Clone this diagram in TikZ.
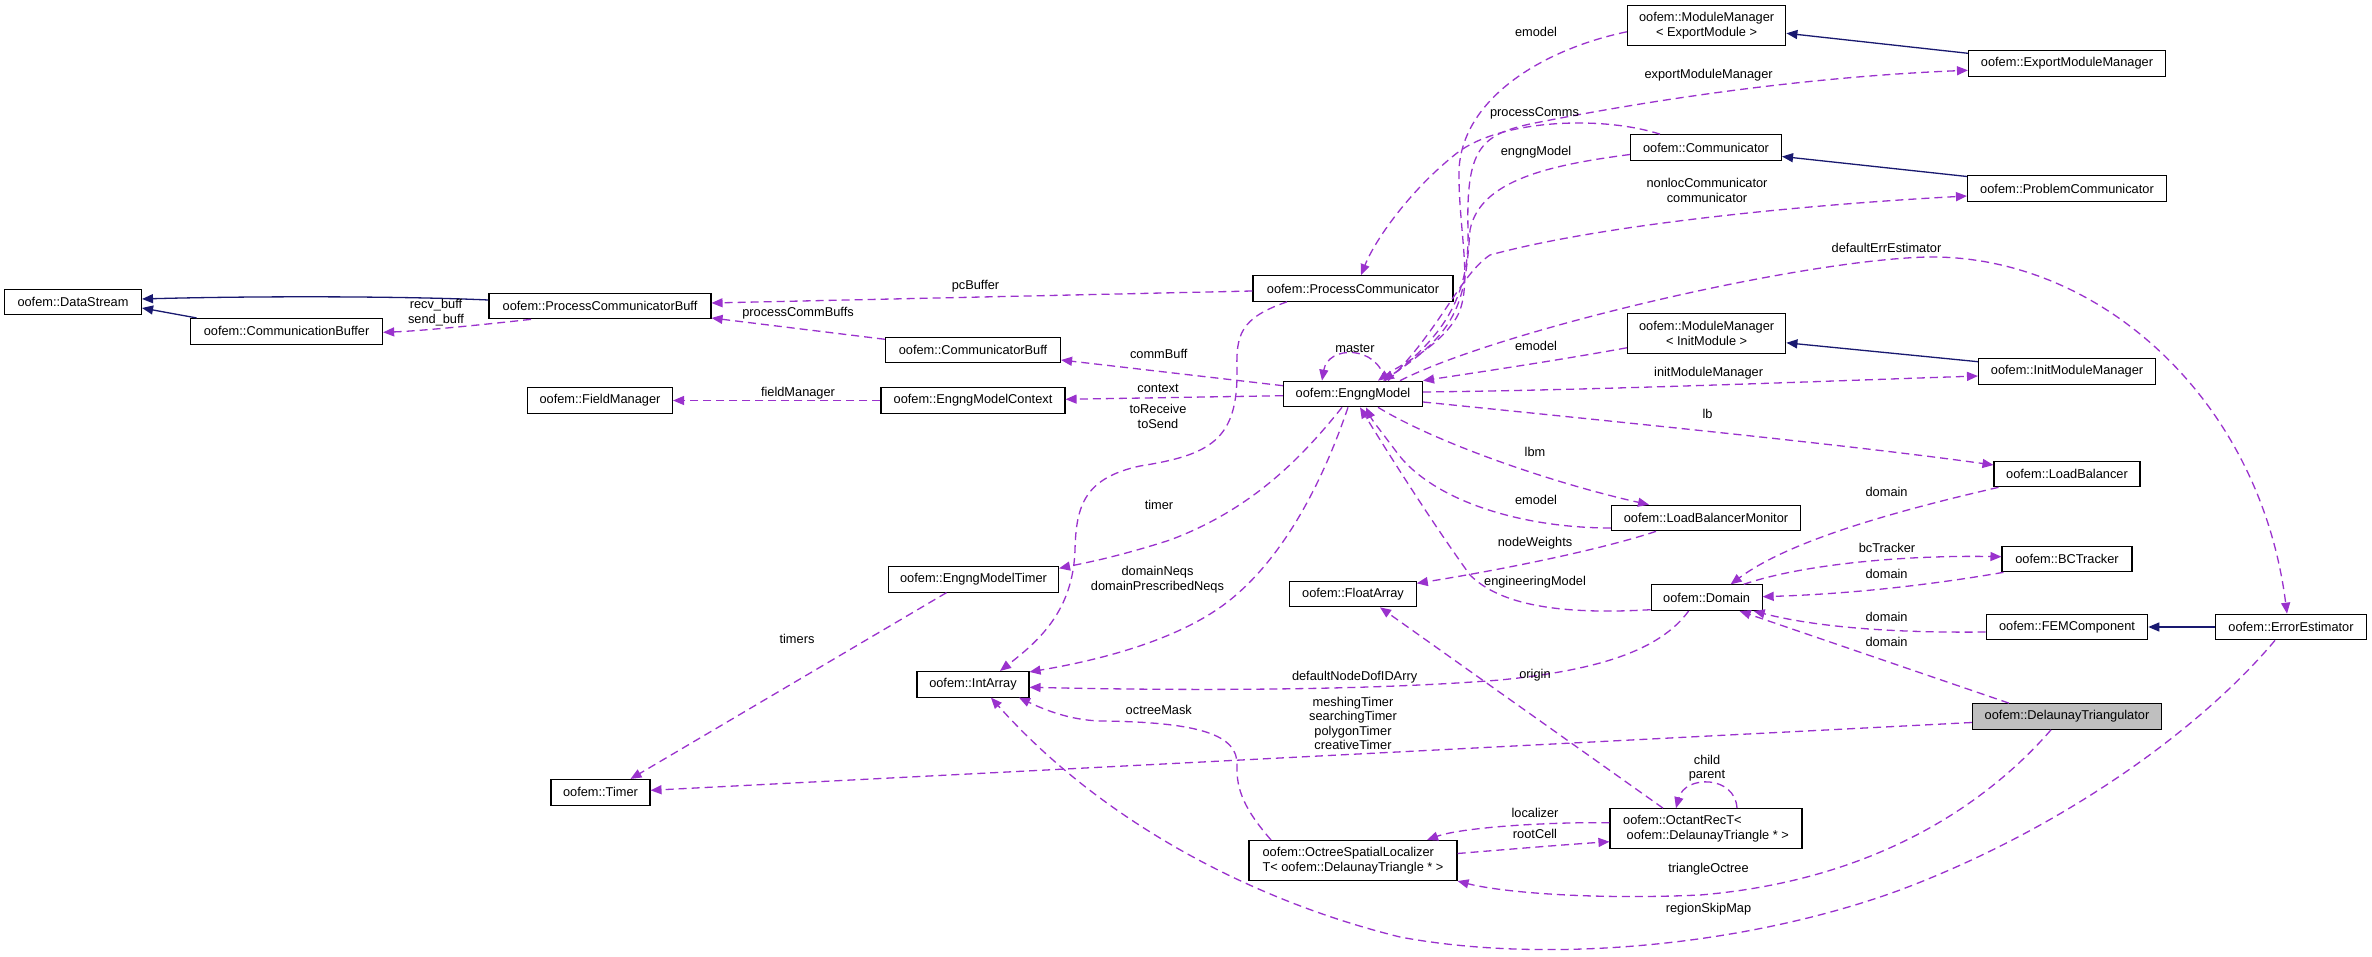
\documentclass[tikz,border=0pt]{standalone}
\usepackage{fontspec}
\setmainfont{Liberation Sans}
\usetikzlibrary{arrows.meta,calc}
\definecolor{vio}{HTML}{9A32CD}
\definecolor{mblue}{HTML}{191970}
\definecolor{selgray}{HTML}{BFBFBF}
\newcommand\dfs{\fontsize{12.8}{14.8}\selectfont}
\tikzset{
  cls/.style={draw=black, line width=1.1pt, fill=white, minimum height=25.6pt, inner sep=0pt, font=\dfs},
  clstwo/.style={cls, minimum height=40pt},
  usee/.style={draw=vio, line width=1.3pt, dash pattern=on 8pt off 5pt, -{Triangle[length=11pt,width=9pt]}},
  inh/.style={draw=mblue, line width=1.3pt, -{Triangle[length=11pt,width=9pt]}},
  lbl/.style={inner sep=0pt, font=\dfs, align=center},
}
\begin{document}
\begin{tikzpicture}[x=1pt,y=-1pt]
\fill[white] (0,0) rectangle (2372,957);
\useasboundingbox (0,0) rectangle (2372,957);
% nodes
\node[cls, minimum width=137pt] (ds) at (73,302) {oofem::DataStream};
\node[cls, minimum width=192pt] (cb) at (286.6,331.3) {oofem::CommunicationBuffer};
\node[cls, minimum width=222pt] (pcb) at (600,306) {oofem::ProcessCommunicatorBuff};
\node[cls, minimum width=145pt] (fm) at (600,400.5) {oofem::FieldManager};
\node[cls, minimum width=200pt] (pcom) at (1353,288.5) {oofem::ProcessCommunicator};
\node[cls, minimum width=175pt] (cbuff) at (973,350) {oofem::CommunicatorBuff};
\node[cls, minimum width=184pt] (emc) at (973,400.5) {oofem::EngngModelContext};
\node[cls, minimum width=139pt] (em) at (1353,394) {oofem::EngngModel};
\node[clstwo, minimum width=158.5pt, align=center] (mmx) at (1706.6,25.8) {oofem::ModuleManager\\< ExportModule >};
\node[cls, minimum width=197pt] (emm) at (2067,63.3) {oofem::ExportModuleManager};
\node[cls, minimum width=151pt] (comm) at (1706,147.5) {oofem::Communicator};
\node[cls, minimum width=199pt] (prc) at (2067,188.5) {oofem::ProblemCommunicator};
\node[clstwo, minimum width=158.5pt, align=center] (mmi) at (1706.6,333.8) {oofem::ModuleManager\\< InitModule >};
\node[cls, minimum width=177pt] (imm) at (2067,371.3) {oofem::InitModuleManager};
\node[cls, minimum width=146pt] (lb) at (2067,474) {oofem::LoadBalancer};
\node[cls, minimum width=189pt] (lbm) at (1706,518) {oofem::LoadBalancerMonitor};
\node[cls, minimum width=130pt] (bct) at (2067,559) {oofem::BCTracker};
\node[cls, minimum width=111pt] (dom) at (1706.6,597.7) {oofem::Domain};
\node[cls, minimum width=161.5pt] (fem) at (2067,627) {oofem::FEMComponent};
\node[cls, minimum width=151pt] (ee) at (2291,627) {oofem::ErrorEstimator};
\node[cls, minimum width=189pt, fill=selgray] (dt) at (2067,716.5) {oofem::DelaunayTriangulator};
\node[cls, minimum width=170pt] (emt) at (973.5,579.3) {oofem::EngngModelTimer};
\node[cls, minimum width=126.5pt] (fa) at (1353,594) {oofem::FloatArray};
\node[cls, minimum width=112pt] (ia) at (973,684.3) {oofem::IntArray};
\node[cls, minimum width=99pt] (tmr) at (600.5,792.3) {oofem::Timer};
\node[clstwo, minimum width=208pt, align=left] (osl) at (1353,860.5) {oofem::OctreeSpatialLocalizer\\T< oofem::DelaunayTriangle * >};
\node[clstwo, minimum width=192pt, align=left] (ort) at (1706,828.7) {oofem::OctantRecT<\\\ oofem::DelaunayTriangle * >};
% inheritance
\draw[inh] ($(cb.north)+(-90,0)$) -- ($(ds.east)+(0,6)$);
\draw[inh] ($(pcb.west)+(0,-6)$) .. controls (400,296) and (250,296) .. ($(ds.east)+(0,-3)$);
\draw[inh] ($(emm.west)+(0,-10)$) -- ($(mmx.east)+(0,7.5)$);
\draw[inh] ($(prc.west)+(0,-12)$) -- ($(comm.east)+(0,9)$);
\draw[inh] ($(imm.west)+(0,-9.6)$) -- ($(mmi.east)+(0,9)$);
\draw[inh] (ee.west) -- (fem.east);
% usage
\draw[usee] ($(pcb.south)+(-69,0)$) .. controls (480,325) and (420,331) .. ($(cb.east)+(0,1)$);
\draw[usee] ($(pcom.west)+(0,2.5)$) -- ($(pcb.east)+(0,-3)$);
\draw[usee] ($(cbuff.west)+(0,-10.7)$) -- ($(pcb.east)+(0,12)$);
\draw[usee] ($(em.west)+(0,-8.3)$) -- ($(cbuff.east)+(0,10)$);
\draw[usee] ($(em.west)+(0,1.7)$) -- ($(emc.east)+(0,-1.2)$);
\draw[usee] (emc.west) -- (fm.east);
\draw[usee] ($(pcom.south)+(-66,0)$) .. controls (1240,318) and (1236,335) .. (1237,370) .. controls (1238,440) and (1210,455) .. (1140,466) .. controls (1085,478) and (1076,505) .. (1075,550) .. controls (1073,610) and (1040,640) .. ($(ia.north)+(27,0)$);
\draw[usee] ($(em.south)+(-11,0)$) .. controls (1300,460) and (1250,510) .. (1170,540) .. controls (1120,556) and (1090,562) .. ($(emt.east)+(0,-11)$);
\draw[usee] ($(em.south)+(-5,0)$) .. controls (1320,490) and (1280,560) .. (1230,600) .. controls (1180,640) and (1100,660) .. ($(ia.north east)+(0,1)$);
\draw[usee] ($(em.south)+(25,0)$) .. controls (1440,445) and (1560,485) .. ($(lbm.north)+(-57,0)$);
\draw[usee] ($(lbm.west)+(0,10)$) .. controls (1520,528) and (1430,500) .. (1395,450) .. controls (1380,430) and (1372,420) .. ($(em.south)+(13,0)$);
\draw[usee] ($(dom.west)+(0,12)$) .. controls (1560,615) and (1500,605) .. (1470,575) .. controls (1430,520) and (1380,440) .. ($(em.south)+(7,0)$);
\draw[usee] ($(em.east)+(0,8)$) .. controls (1600,420) and (1850,445) .. ($(lb.west)+(0,-9)$);
\draw[usee] ($(em.east)+(0,-2)$) .. controls (1600,390) and (1800,382) .. ($(imm.west)+(0,4.7)$);
\draw[usee] ($(mmi.west)+(0,14)$) .. controls (1560,360) and (1480,372) .. (em.north east);
\draw[usee] ($(em.north)+(47,0)$) .. controls (1500,330) and (1800,260) .. (1928,257) .. controls (2100,255) and (2260,400) .. ($(ee.north)+(-4,0)$);
\draw[usee] ($(em.north)+(35,0)$) .. controls (1440,330) and (1460,275) .. (1490,255) .. controls (1600,225) and (1800,205) .. ($(prc.west)+(0,7.5)$);
\draw[usee] ($(em.north)+(32,0)$) .. controls (1440,340) and (1470,300) .. (1468,230) .. controls (1466,150) and (1480,135) .. (1530,124) .. controls (1700,90) and (1850,75) .. ($(emm.west)+(0,7)$);
\draw[usee] ($(mmx.west)+(0,6)$) .. controls (1540,50) and (1462,100) .. (1459,170) .. controls (1458,230) and (1475,290) .. (1455,320) .. controls (1435,350) and (1400,365) .. ($(em.north)+(25,0)$);
\draw[usee] ($(comm.west)+(0,7)$) .. controls (1550,165) and (1480,180) .. (1470,230) .. controls (1465,300) and (1460,330) .. ($(em.north)+(30,0)$);
\draw[usee] ($(comm.north)+(-46,0)$) .. controls (1600,115) and (1500,120) .. (1457,153) .. controls (1410,190) and (1375,240) .. ($(pcom.north)+(8,0)$);
\draw[usee] ($(em.north)+(32,0)$) .. controls (1378,345) and (1328,345) .. ($(em.north)+(-31,0)$);
\draw[usee] ($(lbm.south)+(-50,0)$) .. controls (1600,550) and (1500,570) .. ($(fa.east)+(0,-10.7)$);
\draw[usee] ($(lb.south west)+(5,0)$) .. controls (1900,510) and (1790,540) .. ($(dom.north)+(24,0)$);
\draw[usee] ($(dom.north)+(37,0)$) .. controls (1800,565) and (1900,555) .. ($(bct.west)+(0,-2.3)$);
\draw[usee] ($(bct.south west)+(2,0)$) .. controls (1930,585) and (1850,594) .. ($(dom.east)+(0,-1)$);
\draw[usee] ($(fem.west)+(0,5)$) .. controls (1900,633) and (1820,628) .. ($(dom.south east)+(-9,0)$);
\draw[usee] ($(dt.north)+(-58,0)$) -- ($(dom.south)+(33,0)$);
\draw[usee] ($(dom.south)+(-18,0)$) .. controls (1660,650) and (1600,670) .. (1500,680) .. controls (1350,692) and (1150,690) .. ($(ia.east)+(0,3)$);
\draw[usee] ($(dt.west)+(0,6)$) -- ($(tmr.east)+(0,-2)$);
\draw[usee] ($(emt.south)+(-27,0)$) -- ($(tmr.north)+(30,0)$);
\draw[usee] ($(ort.north)+(-43,0)$) -- ($(fa.south)+(27,0)$);
\draw[usee] ($(ort.north)+(31,0)$) .. controls (1735,775) and (1685,775) .. ($(ort.north)+(-30,0)$);
\draw[usee] ($(ort.west)+(0,-6)$) .. controls (1540,822) and (1460,828) .. ($(osl.north)+(74,0)$);
\draw[usee] ($(osl.east)+(0,-7)$) .. controls (1500,850) and (1560,845) .. ($(ort.west)+(0,13)$);
\draw[usee] ($(osl.north)+(-82,0)$) .. controls (1245,810) and (1236,790) .. (1237,765) .. controls (1238,735) and (1200,722) .. (1100,721) .. controls (1070,720) and (1045,710) .. ($(ia.south)+(46,0)$);
\draw[usee] ($(dt.south)+(-16,0)$) .. controls (1990,800) and (1880,880) .. (1700,895) .. controls (1590,900) and (1500,892) .. (osl.south east);
\draw[usee] ($(ee.south)+(-16,0)$) .. controls (2200,730) and (2060,830) .. (1900,890) .. controls (1750,945) and (1550,965) .. (1400,937) .. controls (1250,900) and (1100,820) .. ($(ia.south)+(18,0)$);
% labels
\node[lbl] (l1) at (436,313) {recv\_buff\\send\_buff};
\node[lbl] (l2) at (975.5,285.7) {pcBuffer};
\node[lbl] (l3) at (798,313.3) {processCommBuffs};
\node[lbl] (l4) at (1158.7,354) {commBuff};
\node[lbl] (l5) at (1158,388.7) {context};
\node[lbl] (l6) at (1158,416.7) {toReceive\\toSend};
\node[lbl] (l7) at (798,392.7) {fieldManager};
\node[lbl] (l8) at (1355,348.3) {master};
\node[lbl] (l9) at (1536,32) {emodel};
\node[lbl] (l10) at (1708.6,74.7) {exportModuleManager};
\node[lbl] (l11) at (1534.5,113.7) {processComms};
\node[lbl] (l12) at (1536,152.3) {engngModel};
\node[lbl] (l13) at (1707,190.2) {nonlocCommunicator\\communicator};
\node[lbl] (l14) at (1886.5,248.3) {defaultErrEstimator};
\node[lbl] (l15) at (1536,345.7) {emodel};
\node[lbl] (l16) at (1708.6,373.3) {initModuleManager};
\node[lbl] (l17) at (1707.5,414.3) {lb};
\node[lbl] (l18) at (1535,452.3) {lbm};
\node[lbl] (l19) at (1536,500.3) {emodel};
\node[lbl] (l20) at (1535,542.7) {nodeWeights};
\node[lbl] (l21) at (1535,582.3) {engineeringModel};
\node[lbl] (l22) at (1159,505.3) {timer};
\node[lbl] (l23) at (1157.5,579.3) {domainNeqs\\domainPrescribedNeqs};
\node[lbl] (l24) at (1886.6,492.3) {domain};
\node[lbl] (l25) at (1887,548.3) {bcTracker};
\node[lbl] (l26) at (1886.6,574.3) {domain};
\node[lbl] (l27) at (1886.6,617.3) {domain};
\node[lbl] (l28) at (1886.6,642.3) {domain};
\node[lbl] (l29) at (1707,768.2) {child\\parent};
\node[lbl] (l30) at (797,638.7) {timers};
\node[lbl] (l31) at (1354.6,676.7) {defaultNodeDofIDArry};
\node[lbl] (l32) at (1158.8,709.7) {octreeMask};
\node[lbl, font=\fontsize{12.8}{14.5}\selectfont] (l33) at (1353,723.5) {meshingTimer\\searchingTimer\\polygonTimer\\creativeTimer};
\node[lbl] (l34) at (1535,674.7) {origin};
\node[lbl] (l35) at (1535,813.3) {localizer};
\node[lbl] (l36) at (1535,834.3) {rootCell};
\node[lbl] (l37) at (1708.5,868.7) {triangleOctree};
\node[lbl] (l38) at (1708.5,908.7) {regionSkipMap};
\end{tikzpicture}
\end{document}
